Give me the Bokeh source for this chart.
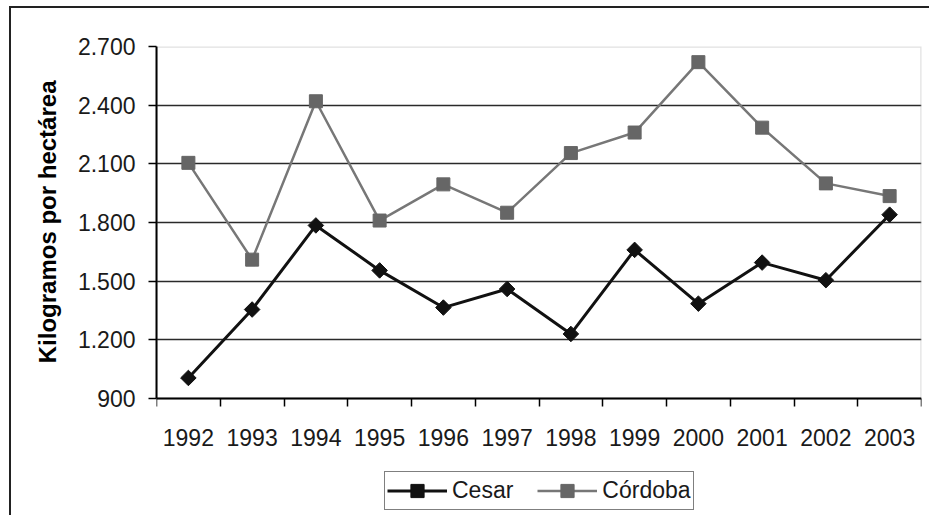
import math
from bokeh.plotting import figure
from bokeh.models import (Range1d, FixedTicker, Legend, LegendItem,
                          ColumnDataSource, BoxAnnotation, Title)
from bokeh.embed import file_html
from bokeh.resources import INLINE

years = ["1992", "1993", "1994", "1995", "1996", "1997",
         "1998", "1999", "2000", "2001", "2002", "2003"]
cesar = [1005, 1355, 1785, 1555, 1365, 1460, 1230, 1660, 1385, 1595, 1505, 1840]
cordoba = [2105, 1610, 2420, 1810, 1995, 1850, 2155, 2260, 2620, 2285, 2000, 1935]
y_ticks = [900, 1200, 1500, 1800, 2100, 2400, 2700]
y_tick_labels = ["900", "1.200", "1.500", "1.800", "2.100", "2.400", "2.700"]
y_title = "Kilogramos por hectárea"

FONT = "Liberation Sans"

# page geometry (pixels)
FIG_W, FIG_H = 929, 515
LEFT, RIGHT, TOP = 156, 8, 46
PLOT_BOTTOM = 398          # pixel row of the 900 baseline
TITLE_TOP = 80             # pixel row where the rotated y title ends
frame_w = FIG_W - LEFT - RIGHT
frame_h = FIG_H - TOP
y_min, y_max = y_ticks[0], y_ticks[-1]
units_per_px = (y_max - y_min) / (PLOT_BOTTOM - TOP)
y_low = y_min - (FIG_H - PLOT_BOTTOM) * units_per_px   # room for labels + legend

n = len(years)
xs = [i + 0.5 for i in range(n)]
src = ColumnDataSource(dict(x=xs, year=years, cesar=cesar, cordoba=cordoba))

p = figure(frame_width=frame_w, frame_height=frame_h, output_backend="svg",
           toolbar_location=None,
           x_range=Range1d(0, n), y_range=Range1d(y_low, y_max),
           min_border_left=LEFT, min_border_right=RIGHT, min_border_top=TOP,
           min_border_bottom=0)
p.styles = {"background": "linear-gradient(#222,#222) 9px 6px / 100% 2px no-repeat, "
                          "linear-gradient(#222,#222) 9px 6px / 2px 100% no-repeat, #ffffff"}
p.background_fill_color = "white"
p.border_fill_alpha = 0
p.outline_line_color = None

# plot-area border (grey, top/right visible)
box = BoxAnnotation(left=0, right=n, bottom=y_min, top=y_max,
                    fill_alpha=0, line_color="#9a9a9a", line_width=2.5,
                    level="underlay")
p.add_layout(box)

# grid
p.xgrid.visible = False
p.ygrid.ticker = FixedTicker(ticks=y_ticks[1:-1])
p.ygrid.grid_line_color = "#2a2a2a"
p.ygrid.grid_line_width = 1.5

# y axis
ya = p.yaxis[0]
ya.ticker = FixedTicker(ticks=y_ticks)
ya.bounds = (y_min, y_max)
ya.major_label_overrides = {t: l for t, l in zip(y_ticks, y_tick_labels)}
ya.axis_line_color = "black"
ya.axis_line_width = 2
ya.major_tick_line_color = "black"
ya.major_tick_line_width = 1.5
ya.major_tick_out = 8
ya.major_tick_in = 0
ya.minor_tick_line_color = None
ya.major_label_text_font = FONT
ya.major_label_text_font_size = "23px"
ya.major_label_text_color = "#1a1a1a"
ya.major_label_standoff = 13

# y title, placed alongside the plot area
yt = Title(text=y_title, align="right", offset=TITLE_TOP - TOP,
           text_font=FONT, text_font_size="24px", text_font_style="bold",
           text_color="black", standoff=28)
p.add_layout(yt, "left")

# x axis drawn at the 900 baseline: labels at centres, minor ticks at boundaries
xa = p.xaxis[0]
xa.fixed_location = y_min
xa.bounds = (0, n)
xa.ticker = FixedTicker(ticks=xs, minor_ticks=list(range(n + 1)))
xa.major_label_overrides = {x: y for x, y in zip(xs, years)}
xa.axis_line_color = "black"
xa.axis_line_width = 2
xa.major_tick_line_color = None
xa.major_tick_out = 0
xa.major_tick_in = 0
xa.minor_tick_line_color = "black"
xa.minor_tick_line_width = 1.5
xa.minor_tick_out = 8
xa.minor_tick_in = 0
xa.major_label_text_font = FONT
xa.major_label_text_font_size = "23px"
xa.major_label_text_color = "#1a1a1a"
xa.major_label_standoff = 22

# series
l1 = p.line("x", "cesar", source=src, line_color="#111111", line_width=3)
m1 = p.scatter("x", "cesar", source=src, marker="square", angle=math.pi / 4,
               size=11, fill_color="#111111", line_color="#111111")
l2 = p.line("x", "cordoba", source=src, line_color="#777777", line_width=2.5)
m2 = p.scatter("x", "cordoba", source=src, marker="square", size=13,
               fill_color="#666666", line_color="#666666")

legend = Legend(items=[LegendItem(label="Cesar", renderers=[l1, m1]),
                       LegendItem(label="Córdoba", renderers=[l2, m2])],
                orientation="horizontal", location=(228, 5))
legend.label_text_font = FONT
legend.label_text_font_size = "23px"
legend.label_text_color = "#1a1a1a"
legend.glyph_width = 60
legend.glyph_height = 33
legend.label_standoff = 5
legend.spacing = 24
legend.padding = 2
legend.margin = 0
legend.border_line_color = "black"
legend.border_line_width = 1.5
legend.background_fill_color = "white"
legend.background_fill_alpha = 1
p.add_layout(legend, "center")

open("out.html", "w").write(file_html(p, INLINE))
